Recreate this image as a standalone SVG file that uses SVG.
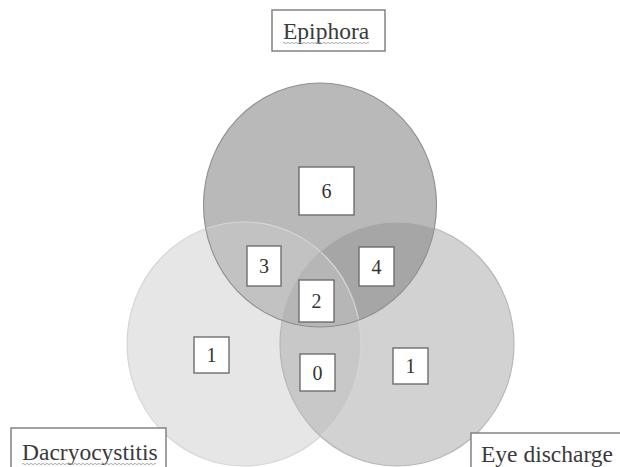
<svg xmlns="http://www.w3.org/2000/svg" width="620" height="467" viewBox="0 0 620 467">
  <style>
    .lbl { fill: #ffffff; stroke: #6e6e6e; stroke-width: 1.4; }
    .num { font-size: 20px; fill: #333333; text-anchor: middle; }
    .title { font-size: 23.5px; fill: #3a3a3a; }
    .tbox { fill: #ffffff; stroke: #7a7a7a; stroke-width: 1.4; }
    .squig { fill: none; stroke: #a0a0a0; stroke-width: 0.9; }
  </style>
  <defs>
    <ellipse id="eTop" cx="320" cy="205" rx="116.5" ry="122"/>
    <ellipse id="eLeft" cx="244" cy="344" rx="117" ry="122"/>
    <ellipse id="eRight" cx="397" cy="344" rx="117" ry="122"/>
    <clipPath id="cTop"><use href="#eTop"/></clipPath>
    <clipPath id="cLeft"><use href="#eLeft"/></clipPath>
    <clipPath id="cRight"><use href="#eRight"/></clipPath>
  </defs>
  <rect width="620" height="467" fill="#ffffff"/>

  <g id="set-dacryocystitis">
    <use href="#eLeft" fill="#e6e6e6"/>
  </g>
  <g id="set-eye-discharge">
    <use href="#eRight" fill="#d2d2d2"/>
  </g>
  <g id="set-epiphora">
    <use href="#eTop" fill="#b9b9b9"/>
  </g>
  <g id="overlaps">
    <use href="#eLeft" fill="#c8c8c8" clip-path="url(#cRight)"/>
    <use href="#eLeft" fill="#c2c2c2" clip-path="url(#cTop)"/>
    <use href="#eRight" fill="#a6a6a6" clip-path="url(#cTop)"/>
    <g clip-path="url(#cTop)">
      <use href="#eLeft" fill="#b6b6b6" clip-path="url(#cRight)"/>
    </g>
  </g>
  <g id="outlines" fill="none">
    <use href="#eLeft" stroke="#d6d6d6" stroke-width="1.2"/>
    <use href="#eRight" stroke="#b8b8b8" stroke-width="1.2"/>
    <use href="#eTop" stroke="#8f8f8f" stroke-width="1.1"/>
  </g>

  <g id="title-epiphora" font-family="'Liberation Serif', 'Times New Roman', 'DejaVu Serif', serif">
    <rect class="tbox" x="272" y="10" width="113" height="41"/>
    <text class="title" x="283" y="39">Epiphora</text>
    <path class="squig" d="M283 43 q1 -1.2 2 0 t2 0 t2 0 t2 0 t2 0 t2 0 t2 0 t2 0 t2 0 t2 0 t2 0 t2 0 t2 0 t2 0 t2 0 t2 0 t2 0 t2 0 t2 0 t2 0 t2 0 t2 0 t2 0 t2 0 t2 0 t2 0 t2 0 t2 0 t2 0 t2 0 t2 0 t2 0 t2 0 t2 0 t2 0 t2 0 t2 0 t2 0 t2 0 t2 0 t2 0 t2 0 t2 0"/>
  </g>
  <g id="title-dacryocystitis" font-family="'Liberation Serif', 'Times New Roman', 'DejaVu Serif', serif">
    <rect class="tbox" x="11" y="428" width="155" height="45"/>
    <text class="title" x="22" y="460">Dacryocystitis</text>
    <path class="squig" d="M22 464 q1 -1.2 2 0 t2 0 t2 0 t2 0 t2 0 t2 0 t2 0 t2 0 t2 0 t2 0 t2 0 t2 0 t2 0 t2 0 t2 0 t2 0 t2 0 t2 0 t2 0 t2 0 t2 0 t2 0 t2 0 t2 0 t2 0 t2 0 t2 0 t2 0 t2 0 t2 0 t2 0 t2 0 t2 0 t2 0 t2 0 t2 0 t2 0 t2 0 t2 0 t2 0 t2 0 t2 0 t2 0 t2 0 t2 0 t2 0 t2 0 t2 0 t2 0 t2 0 t2 0 t2 0 t2 0 t2 0 t2 0 t2 0 t2 0 t2 0 t2 0 t2 0 t2 0 t2 0 t2 0 t2 0 t2 0 t2 0 t2 0"/>
  </g>
  <g id="title-eye-discharge" font-family="'Liberation Serif', 'Times New Roman', 'DejaVu Serif', serif">
    <rect class="tbox" x="471" y="433" width="160" height="40"/>
    <text class="title" x="481" y="462">Eye discharge</text>
  </g>

  <g id="numbers" font-family="'Liberation Serif', 'Times New Roman', 'DejaVu Serif', serif">
    <g id="n-epiphora-only">
      <rect class="lbl" x="299" y="167" width="55" height="48"/>
      <text class="num" x="326.5" y="198">6</text>
    </g>
    <g id="n-epiphora-dacryo">
      <rect class="lbl" x="247" y="246" width="34" height="40"/>
      <text class="num" x="264" y="273">3</text>
    </g>
    <g id="n-epiphora-eye">
      <rect class="lbl" x="359" y="247" width="35" height="39"/>
      <text class="num" x="376.5" y="274">4</text>
    </g>
    <g id="n-all">
      <rect class="lbl" x="299" y="280" width="35" height="42"/>
      <text class="num" x="316.5" y="308">2</text>
    </g>
    <g id="n-dacryo-only">
      <rect class="lbl" x="194" y="337" width="35" height="36"/>
      <text class="num" x="211.5" y="362">1</text>
    </g>
    <g id="n-dacryo-eye">
      <rect class="lbl" x="300" y="354" width="35" height="37"/>
      <text class="num" x="317.5" y="380">0</text>
    </g>
    <g id="n-eye-only">
      <rect class="lbl" x="393" y="348" width="35" height="36"/>
      <text class="num" x="410.5" y="373">1</text>
    </g>
  </g>
</svg>
